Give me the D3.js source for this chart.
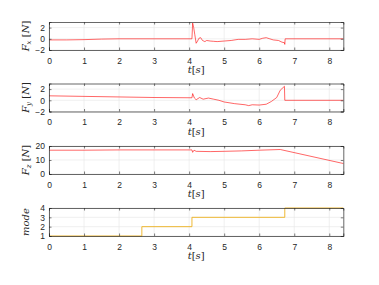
<!DOCTYPE html>
<html>
<head>
<meta charset="utf-8">
<script src="https://cdn.jsdelivr.net/npm/d3@7"></script>
<style>
  body { margin: 0; background: #fff; }
  .tick text { font-family: "Liberation Sans", Arial, sans-serif; font-size: 8.5px; fill: #262626; }
  .lbl { font-family: "DejaVu Serif", "Liberation Serif", serif; font-style: italic; font-size: 10px; fill: #262626; }
</style>
</head>
<body>
<svg id="chart" width="379" height="285"></svg>
<script>
// force / mode data
var fxT = [0, 0.5, 1, 1.5, 2, 3, 4.08, 4.1, 4.13, 4.16, 4.2, 4.24, 4.28, 4.33, 4.38, 4.45, 4.5, 4.6, 4.7, 4.8, 5.0, 5.2, 5.4, 5.6, 5.8, 6.0, 6.1, 6.2, 6.3, 6.4, 6.55, 6.65, 6.72, 6.73, 6.74, 8.4];
var fxV = [-0.2, -0.2, -0.15, -0.05, 0, 0, 0, 2.8, 2.0, 0.8, -0.8, -0.4, 0.1, 0.2, -0.3, -0.5, -0.3, -0.4, -0.45, -0.5, -0.4, -0.3, -0.1, -0.1, 0, -0.1, 0.1, 0.2, 0, -0.2, -0.3, -0.6, -0.7, -1.0, 0, 0];

var fyT = [0, 1, 2, 3, 4.08, 4.1, 4.15, 4.2, 4.3, 4.4, 4.55, 4.7, 4.85, 5.0, 5.3, 5.6, 5.7, 5.8, 6.0, 6.2, 6.35, 6.5, 6.6, 6.72, 6.73, 8.4];
var fyV = [0.8, 0.7, 0.6, 0.5, 0.45, 1.2, 0.4, 0.1, 0.5, 0.2, 0.4, 0.2, 0.0, -0.3, -0.6, -0.8, -0.95, -0.8, -0.85, -0.7, -0.2, 0.5, 1.8, 2.5, 0, 0];

var fzT = [0, 1, 2, 3, 4.08, 4.1, 4.14, 4.2, 4.6, 5.0, 5.5, 6.0, 6.6, 8.4];
var fzV = [17, 17, 17.2, 17.2, 17.2, 15.5, 17, 16.2, 16, 16.2, 16.5, 17, 17.5, 7.5];

var modeT = [0, 2.65, 4.08, 6.73, 8.4];
var modeV = [1, 2, 3, 4, 4];

var xTicks = [0, 1, 2, 3, 4, 5, 6, 7, 8];

var svg = d3.select("#chart");
var left = 49, right = 343.3;
var x = d3.scaleLinear().domain([0, 8.4]).range([left, right]);

var panels = [
  { top: 22,  t: fxT, v: fxV, dom: [-2, 3], ticks: [-2, 0, 2], color: "#ff0000", sub: "x", step: false },
  { top: 83.5, t: fyT, v: fyV, dom: [-2, 3], ticks: [-2, 0, 2], color: "#ff0000", sub: "y", step: false },
  { top: 146, t: fzT, v: fzV, dom: [0, 20], ticks: [0, 10, 20], color: "#ff0000", sub: "z", step: false },
  { top: 208, t: modeT, v: modeV, dom: [1, 4], ticks: [1, 2, 3, 4], color: "#EDB120", sub: null, step: true }
];
var h = 28;

panels.forEach(function(p) {
  var y = d3.scaleLinear().domain(p.dom).range([p.top + h, p.top]);
  var g = svg.append("g");

  // grid
  g.selectAll(".gx").data(xTicks).enter().append("line")
    .attr("x1", d => x(d)).attr("x2", d => x(d))
    .attr("y1", p.top).attr("y2", p.top + h)
    .attr("stroke", "#e6e6e6").attr("stroke-width", 0.6);
  g.selectAll(".gy").data(p.ticks).enter().append("line")
    .attr("x1", left).attr("x2", right)
    .attr("y1", d => y(d)).attr("y2", d => y(d))
    .attr("stroke", "#e6e6e6").attr("stroke-width", 0.6);

  // data line
  var line = d3.line()
    .x(function(d, i) { return x(p.t[i]); })
    .y(function(d) { return y(d); });
  if (p.step) line.curve(d3.curveStepAfter);
  g.append("path").datum(p.v)
    .attr("d", line)
    .attr("fill", "none")
    .attr("stroke", p.color)
    .attr("stroke-width", p.step ? 1 : 0.8)
    .attr("stroke-opacity", p.step ? 0.9 : 0.75);

  // axes
  var xb = d3.axisBottom(x).tickValues(xTicks).tickSize(-2.5).tickPadding(7.5).tickFormat(d3.format("d"));
  var xt = d3.axisTop(x).tickValues(xTicks).tickSize(-2.5).tickFormat("");
  var yl = d3.axisLeft(y).tickValues(p.ticks).tickSize(-2.5).tickPadding(4).tickFormat(d3.format("d"));
  var yr = d3.axisRight(y).tickValues(p.ticks).tickSize(-2.5).tickFormat("");

  [[xb, "translate(0," + (p.top + h) + ")"], [xt, "translate(0," + p.top + ")"],
   [yl, "translate(" + left + ",0)"], [yr, "translate(" + right + ",0)"]].forEach(function(a) {
    var ag = g.append("g").attr("transform", a[1]).call(a[0]);
    ag.select(".domain").attr("stroke", "#262626").attr("stroke-width", 0.7);
    ag.selectAll(".tick line").attr("stroke", "#262626").attr("stroke-width", 0.6);
  });

  // x label
  var xl = g.append("text").attr("class", "lbl")
    .attr("x", (left + right) / 2).attr("y", p.top + h + 23)
    .attr("text-anchor", "middle");
  xl.append("tspan").text("t");
  xl.append("tspan").style("font-style", "normal").text("[");
  xl.append("tspan").text("s");
  xl.append("tspan").style("font-style", "normal").text("]");

  // y label
  var ylab = g.append("text").attr("class", "lbl")
    .attr("transform", "translate(29," + (p.top + h / 2) + ") rotate(-90)")
    .attr("text-anchor", "middle");
  if (p.sub) {
    ylab.append("tspan").text("F");
    ylab.append("tspan").attr("font-size", "7px").attr("dy", 2).text(p.sub);
    ylab.append("tspan").attr("dy", -2).style("font-style", "normal").text(" [");
    ylab.append("tspan").text("N");
    ylab.append("tspan").style("font-style", "normal").text("]");
  } else {
    ylab.text("mode");
  }
});
</script>
</body>
</html>
